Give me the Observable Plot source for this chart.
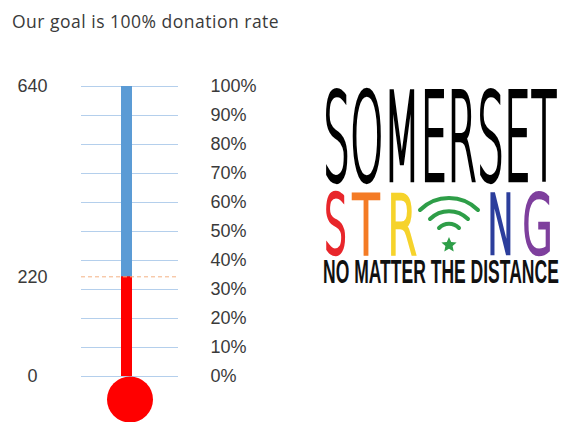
<!DOCTYPE html>
<html>
<head>
<meta charset="utf-8">
<script src="https://cdn.jsdelivr.net/npm/d3@7"></script>
<script src="https://cdn.jsdelivr.net/npm/@observablehq/plot@0.6"></script>
<style>
  html, body { margin: 0; padding: 0; background: #fff; }
  body { width: 563px; height: 422px; position: relative; overflow: hidden; }
  #title { height: 40px; box-sizing: border-box; padding: 9px 0 0 12px; font: 17.5px "Open Sans", sans-serif; line-height: 24px; color: #3a3a3a; letter-spacing: 0.5px; white-space: nowrap; }
  #logo { position: absolute; left: 0; top: 0; }
</style>
</head>
<body>
<div id="title"></div>
<div id="chart"></div>
<script>
// ---- data ----
const titleText = "Our goal is 100% donation rate";
const categories = ["Donations"];
const goal = [640];
const raised = [220];
const leftTicks = [0, 220, 640];
const pctTicks = [0, 10, 20, 30, 40, 50, 60, 70, 80, 90, 100];

document.getElementById("title").textContent = titleText;

const target = categories.map((c, i) => ({cat: c, value: goal[i]}));
const actual = categories.map((c, i) => ({cat: c, value: raised[i]}));
const gridValues = pctTicks.map(p => p / 100 * goal[0]);

const chart = Plot.plot({
  width: 563,
  height: 382,
  marginTop: 46,
  marginBottom: 46,
  marginLeft: 81,
  marginRight: 385,
  style: {color: "#3a3a3a", fontFamily: "'Liberation Sans', Arial, sans-serif", fontSize: "18px", background: "transparent"},
  x: {type: "band", domain: categories, padding: 0, axis: null},
  y: {domain: [0, goal[0]], axis: null},
  marks: [
    Plot.ruleY(gridValues, {stroke: "#b4cfec", strokeWidth: 1}),
    Plot.barY(target, {x: "cat", y: "value", fill: "#5b9bd5", insetLeft: 40, insetRight: 46}),
    Plot.barY(actual, {x: "cat", y: "value", fill: "#ff0000", insetLeft: 40, insetRight: 46}),
    Plot.ruleY(raised, {stroke: "#f4b183", strokeDasharray: "4,3", strokeWidth: 1}),
    Plot.dot(actual, {x: "cat", y: () => 0, r: 23, dy: 23, fill: "#ff0000", stroke: null}),
    Plot.axisY({anchor: "left", label: null, ticks: leftTicks, tickSize: 0, tickPadding: 49, textAnchor: "middle", tickFormat: d => String(d)}),
    Plot.axisY({anchor: "right", label: null, ticks: gridValues, tickSize: 0, tickPadding: 32, textAnchor: "start", tickFormat: d => Math.round(d / goal[0] * 100) + "%"})
  ]
});
document.getElementById("chart").appendChild(chart);
</script>
<svg id="logo" width="563" height="422" xmlns="http://www.w3.org/2000/svg">
  <g font-family="'DejaVu Sans ExtraLight', 'DejaVu Sans', sans-serif" font-weight="200">
    <text class="fit" data-x="323" data-y="180" data-w="234" font-size="121" fill="#000" stroke="#000" stroke-width="3.2" vector-effect="non-scaling-stroke">SOMERSET</text>
    <g font-size="80" stroke-width="3.6">
      <text class="fit" data-x="324" data-y="253" data-w="23" fill="#e8262b" stroke="#e8262b" vector-effect="non-scaling-stroke">S</text>
      <text class="fit" data-x="352" data-y="253" data-w="28" fill="#f47b25" stroke="#f47b25" vector-effect="non-scaling-stroke">T</text>
      <text class="fit" data-x="387" data-y="253" data-w="30" fill="#f6d32b" stroke="#f6d32b" vector-effect="non-scaling-stroke">R</text>
      <text class="fit" data-x="487" data-y="253" data-w="28" fill="#2c3e9c" stroke="#2c3e9c" vector-effect="non-scaling-stroke">N</text>
      <text class="fit" data-x="522" data-y="253" data-w="31" fill="#7e3f9d" stroke="#7e3f9d" vector-effect="non-scaling-stroke">G</text>
    </g>
  </g>
  <g fill="none" stroke="#2e9e48" stroke-width="4" stroke-linecap="round">
    <path d="M 420 210 A 41 41 0 0 1 478 210"/>
    <path d="M 430 219 A 27 27 0 0 1 468 219"/>
    <path d="M 439 228 A 14 14 0 0 1 459 228"/>
  </g>
  <polygon fill="#2e9e48" points="449,237 451.2,241.9 456.6,242.5 452.6,246.1 453.7,251.4 449,248.7 444.3,251.4 445.4,246.1 441.4,242.5 446.8,241.9"/>
  <text class="fit" data-x="323" data-y="283" data-w="236" font-family="'Liberation Sans Narrow', 'Liberation Sans', sans-serif" font-weight="bold" font-size="33" fill="#111">NO MATTER THE DISTANCE</text>
</svg>
<script>
document.querySelectorAll("#logo text.fit").forEach(el => {
  const natural = el.getComputedTextLength();
  const x = +el.dataset.x, y = +el.dataset.y, w = +el.dataset.w;
  el.setAttribute("transform", `translate(${x},${y}) scale(${w / natural},1)`);
});
</script>
</body>
</html>
